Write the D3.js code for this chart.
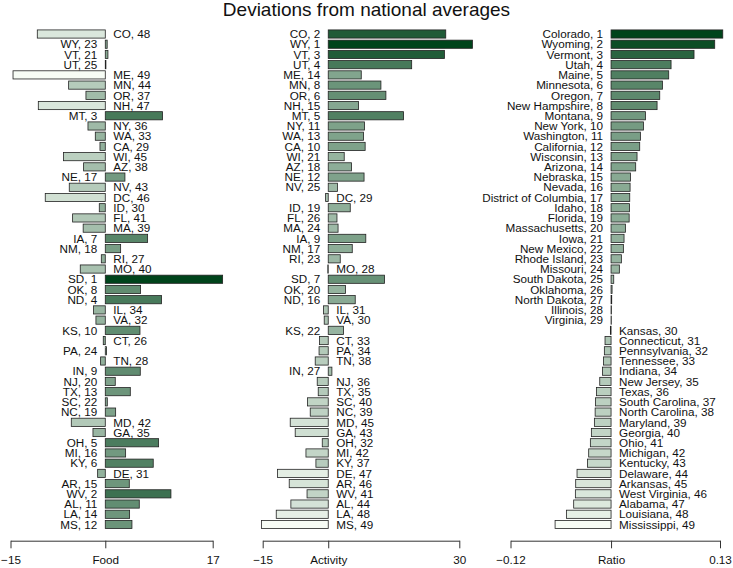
<!DOCTYPE html>
<html>
<head>
<meta charset="utf-8">
<script src="https://cdn.jsdelivr.net/npm/d3@7"></script>
<style>
  body { margin: 0; background: #fff; }
  text { font-family: "Liberation Sans", Arial, Helvetica, sans-serif; fill: #111; }
</style>
</head>
<body>
<div id="chart"><svg></svg></div>
<script>
// row order (sorted by ratio rank)
const stateAbbr = ['CO','WY','VT','UT','ME','MN','OR','NH','MT','NY','WA','CA','WI','AZ','NE','NV','DC',
  'ID','FL','MA','IA','NM','RI','MO','SD','OK','ND','IL','VA','KS','CT','PA','TN','IN','NJ','TX','SC',
  'NC','MD','GA','OH','MI','KY','DE','AR','WV','AL','LA','MS'];

const stateName = ['Colorado','Wyoming','Vermont','Utah','Maine','Minnesota','Oregon','New Hampshire',
  'Montana','New York','Washington','California','Wisconsin','Arizona','Nebraska','Nevada',
  'District of Columbia','Idaho','Florida','Massachusetts','Iowa','New Mexico','Rhode Island','Missouri',
  'South Dakota','Oklahoma','North Dakota','Illinois','Virginia','Kansas','Connecticut','Pennsylvania',
  'Tennessee','Indiana','New Jersey','Texas','South Carolina','North Carolina','Maryland','Georgia',
  'Ohio','Michigan','Kentucky','Delaware','Arkansas','West Virginia','Alabama','Louisiana','Mississippi'];

const foodValues = [-10.76, 0.3, 0.42, 0.1, -14.6, -5.8, -3.06, -10.6, 9.07, -2.74, -1.58, -0.84, -6.6,
  -3.43, 3.11, -5.7, -9.5, -0.95, -5.17, -3.5, 6.7, 2.43, -0.63, -3.96, 18.57, 5.59, 8.9, -1.85, -1.48,
  5.49, -0.32, 0.2, -0.74, 5.54, 1.58, 3.96, 0.32, 1.64, -5.38, -1.95, 8.44, 3.22, 7.59, -1.21, 3.8,
  10.39, 5.38, 3.85, 4.22];

const activityValues = [26.9, 33.0, 26.6, 19.1, 7.56, 12.06, 13.2, 6.95, 17.25, 8.3, 8.09, 8.45, 3.66,
  5.34, 8.2, 2.1, -0.6, 5.04, 2.0, 2.25, 8.6, 5.5, 2.75, -0.1, 12.9, 3.97, 6.18, -1.07, -0.92, 3.5,
  -2.0, -2.1, -2.98, 0.84, -2.52, -2.29, -4.75, -4.12, -8.7, -7.56, -1.37, -5.1, -2.82, -11.6, -8.93,
  -4.85, -8.55, -11.9, -15.3];

const ratioValues = [0.1333, 0.1237, 0.099, 0.0716, 0.0688, 0.0613, 0.0581, 0.0549, 0.041, 0.0386,
  0.035, 0.0342, 0.031, 0.0294, 0.0231, 0.0227, 0.0223, 0.0220, 0.0216, 0.0171, 0.0155, 0.0147, 0.0123,
  0.0099, 0.0032, 0.0012, 0.0008, 0.0005, 0.0003, -0.0008, -0.0072, -0.008, -0.0091, -0.0103, -0.0135,
  -0.0175, -0.0187, -0.019, -0.0199, -0.0235, -0.0247, -0.0267, -0.0282, -0.0406, -0.0422, -0.0426,
  -0.0446, -0.0533, -0.0668];

const foodTicks = [-15, 0, 17];
const activityTicks = [-15, 0, 30];
const ratioTicks = [-0.12, 0, 0.13];

const width = 733;
const height = 568;

const svg = d3.select('#chart').select('svg')
    .attr('width', width)
    .attr('height', height);

svg.append('text')
    .attr('x', 366.5)
    .attr('y', 16)
    .attr('text-anchor', 'middle')
    .style('font-size', '19px')
    .text('Deviations from national averages');

const yScale = d3.scaleBand()
    .domain(d3.range(stateAbbr.length))
    .range([28.9, 529.6])
    .paddingInner(0.2)
    .paddingOuter(0.1);

const axisY = 540.7;

function ranks(values) {
  const order = d3.range(values.length).sort((a, b) => values[b] - values[a]);
  const r = [];
  order.forEach((idx, k) => { r[idx] = k + 1; });
  return r;
}

function drawPanel(names, values, ticks, axisName, range) {
  const xScale = d3.scaleLinear()
      .domain([ticks[0], ticks[2]])
      .range(range);

  const color = d3.scaleLinear()
      .domain([d3.min(values), d3.max(values)])
      .range(['#f7fcf5', '#00441b'])
      .interpolate(d3.interpolateRgb);

  const r = ranks(values);
  const rows = values.map((v, i) => ({i: i, v: v, label: names[i] + ', ' + r[i]}));

  const g = svg.append('g');
  const x0 = xScale(0);

  g.selectAll('rect')
    .data(rows)
    .enter()
    .append('rect')
      .attr('x', d => Math.min(x0, xScale(d.v)))
      .attr('y', d => yScale(d.i))
      .attr('width', d => Math.abs(xScale(d.v) - x0))
      .attr('height', yScale.bandwidth())
      .attr('fill', d => color(d.v))
      .attr('stroke', '#222')
      .attr('stroke-width', 0.8);

  // labels sit on the other side of zero
  g.selectAll('text.lab')
    .data(rows)
    .enter()
    .append('text')
      .attr('class', 'lab')
      .attr('x', d => d.v > 0 ? x0 - 8 : x0 + 8)
      .attr('y', d => yScale(d.i) + yScale.bandwidth() / 2)
      .attr('dy', '0.36em')
      .attr('text-anchor', d => d.v > 0 ? 'end' : 'start')
      .style('font-size', '11.7px')
      .text(d => d.label);

  const axis = svg.append('g')
      .attr('transform', `translate(0, ${axisY})`)
      .call(d3.axisBottom(xScale)
        .tickValues(ticks)
        .tickSizeInner(7.6)
        .tickSizeOuter(0)
        .tickPadding(7.5)
        .tickFormat((d, i) => i === 1 ? axisName : (d < 0 ? '\u2212' + Math.abs(d) : String(d))));
  axis.selectAll('text')
      .style('font-size', '11.7px')
      .style('font-family', '"Liberation Sans", Arial, sans-serif')
      .attr('fill', '#111');
  axis.selectAll('line, path').attr('stroke', '#333');
}

drawPanel(stateAbbr, foodValues, foodTicks, 'Food', [10.5, 212.7]);
drawPanel(stateAbbr, activityValues, activityTicks, 'Activity', [262.7, 459.3]);
drawPanel(stateName, ratioValues, ratioTicks, 'Ratio', [510.5, 720]);
</script>
</body>
</html>
